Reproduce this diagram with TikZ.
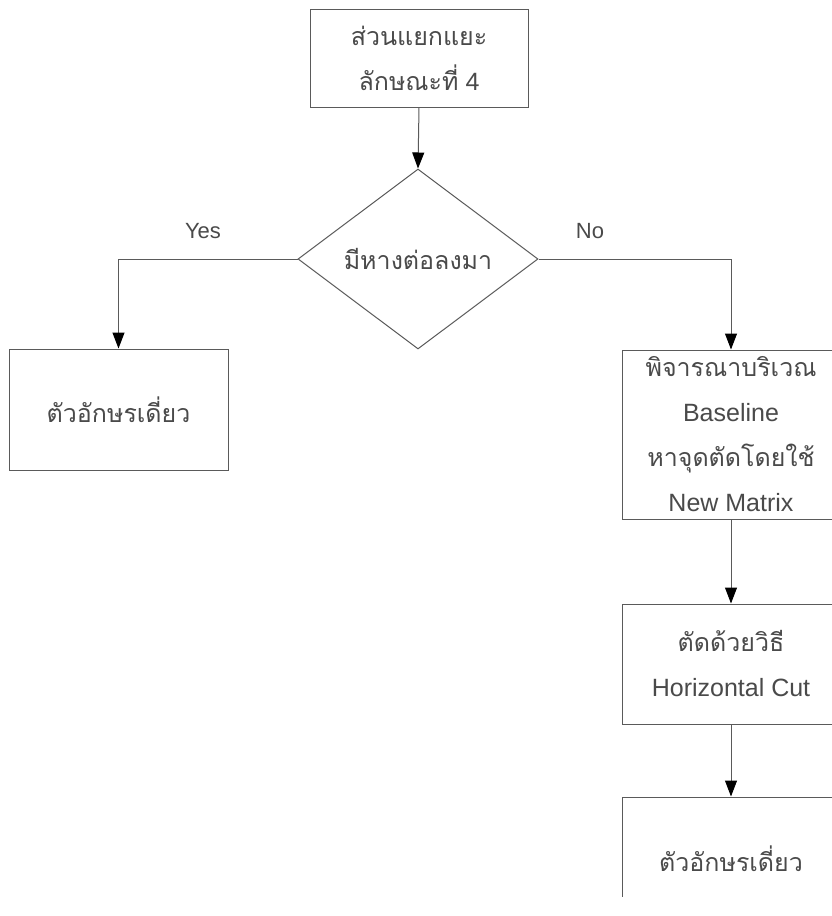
\documentclass[tikz,border=0pt]{standalone}
\usepackage{fontspec}
\setmainfont{Liberation Sans}
\newfontfamily\thai[Script=Thai]{Loma}
\usetikzlibrary{shapes.geometric,arrows.meta}
\definecolor{ln}{HTML}{5A5A5A}
\definecolor{tx}{HTML}{4A4A4A}
\tikzset{
  box/.style={draw=ln, line width=1pt, rectangle, inner sep=0pt, minimum width=218pt, align=center, text=tx, font=\fontsize{25}{45}\selectfont},
  dec/.style={draw=ln, line width=1pt, diamond, aspect=1.333, inner sep=0pt, minimum width=240pt, minimum height=180pt, text=tx, font=\fontsize{25}{45}\selectfont},
  arr/.style={draw=ln, line width=1pt, -{Triangle[length=16pt,width=12pt,color=black]}},
  lab/.style={text=tx, font=\fontsize{22}{26}\selectfont}
}
\begin{document}
\begin{tikzpicture}[x=1pt,y=-1pt]
\useasboundingbox[fill=white] (0,0) rectangle (832,916);
\node[box, minimum height=98pt] (top) at (419,58) {{\thai ส่วนแยกแยะ}\\{\thai ลักษณะที่} 4};
\node[dec] (d) at (418,259) {\thai มีหางต่อลงมา};
\node[box, minimum width=219pt, minimum height=121pt] (left) at (118.5,409.5) {\thai ตัวอักษรเดี่ยว};
\node[box, minimum height=169pt] (r1) at (731,434.5) {{\thai พิจารณาบริเวณ}\\Baseline\\{\thai หาจุดตัดโดยใช้}\\New Matrix};
\node[box, minimum height=120pt] (r2) at (731,664) {{\thai ตัดด้วยวิธี}\\Horizontal Cut};
\begin{scope}
\clip (0,0) rectangle (832,896);
\node[box, minimum height=124pt] (r3) at (731,859) {\thai ตัวอักษรเดี่ยว};
\end{scope}
\node[lab] (yes) at (203,231) {Yes};
\node[lab] (no) at (590,231) {No};
\draw[arr] (top.south) -- (d.north);
\draw[arr] (d.west) -| (left.north);
\draw[arr] (d.east) -| (r1.north);
\draw[arr] (r1.south) -- (r2.north);
\draw[arr] (r2.south) -- (r3.north);
\end{tikzpicture}
\end{document}
